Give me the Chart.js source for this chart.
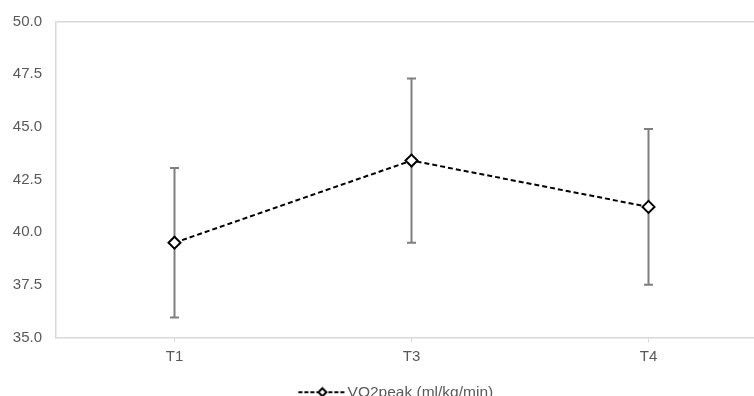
<!DOCTYPE html>
<html>
<head>
<meta charset="utf-8">
<script src="https://cdn.jsdelivr.net/npm/chart.js@4.4.1/dist/chart.umd.min.js"></script>
<style>
    html, body { margin: 0; padding: 0; background: #fff; overflow: hidden; }
    #wrap { position: relative; width: 775px; height: 410px; }
</style>
</head>
<body>
<div id="wrap"><canvas id="vo2Chart"></canvas></div>
<script>
const timepoints = ['T1', 'T3', 'T4'];
const vo2Means = [39.5, 43.4, 41.2];
const vo2Errors = [3.55, 3.9, 3.7];
const yTicks = [35, 37.5, 40, 42.5, 45, 47.5, 50];

// legend symbol: dashed line with diamond marker (drawn left of the image centre)
function makeLegendSymbol() {
    const c = document.createElement('canvas');
    c.width = 80;
    c.height = 14;
    const g = c.getContext('2d');
    g.strokeStyle = '#000';
    g.lineWidth = 2;
    g.setLineDash([4, 2]);
    g.beginPath();
    g.moveTo(3.5, 7);
    g.lineTo(51.5, 7);
    g.stroke();
    g.setLineDash([]);
    g.fillStyle = '#fff';
    g.beginPath();
    g.moveTo(27.5, 3);
    g.lineTo(31.5, 7);
    g.lineTo(27.5, 11);
    g.lineTo(23.5, 7);
    g.closePath();
    g.fill();
    g.stroke();
    return c;
}

const errorBars = {
    id: 'errorBars',
    beforeDatasetsDraw(chart) {
        const ctx = chart.ctx;
        const xs = chart.scales.x;
        const ys = chart.scales.y;
        ctx.save();
        ctx.strokeStyle = '#7f7f7f';
        ctx.lineWidth = 2;
        vo2Means.forEach((m, i) => {
            const x = xs.getPixelForValue(i);
            const top = ys.getPixelForValue(m + vo2Errors[i]);
            const bot = ys.getPixelForValue(m - vo2Errors[i]);
            ctx.beginPath();
            ctx.moveTo(x, top);
            ctx.lineTo(x, bot);
            ctx.moveTo(x - 4.5, top);
            ctx.lineTo(x + 4.5, top);
            ctx.moveTo(x - 4.5, bot);
            ctx.lineTo(x + 4.5, bot);
            ctx.stroke();
        });
        ctx.restore();
    }
};

Chart.defaults.font.family = '"Liberation Sans", Arial, sans-serif';
Chart.defaults.font.size = 15;
Chart.defaults.color = '#595959';

const ctx = document.getElementById('vo2Chart').getContext('2d');
new Chart(ctx, {
    type: 'line',
    data: {
        labels: timepoints,
        datasets: [{
            label: 'VO2peak (ml/kg/min)',
            data: vo2Means,
            borderColor: '#000',
            borderWidth: 2,
            borderDash: [5, 3],
            pointStyle: 'rectRot',
            pointRadius: 6,
            pointBorderWidth: 2,
            pointBackgroundColor: '#fff',
            pointBorderColor: '#000',
            fill: false,
            tension: 0
        }]
    },
    options: {
        responsive: true,
        maintainAspectRatio: false,
        animation: false,
        layout: { padding: { top: 8, left: 0, right: 2, bottom: 0 } },
        plugins: {
            legend: {
                position: 'bottom',
                fullSize: false,
                labels: {
                    usePointStyle: true,
                    pointStyle: makeLegendSymbol(),
                    pointStyleWidth: 10,
                    padding: 10,
                    color: '#595959',
                    font: { size: 15.5 }
                }
            },
            tooltip: { enabled: false }
        },
        scales: {
            x: {
                offset: true,
                afterFit: (scale) => { scale.height += 4; },
                grid: {
                    offset: false,
                    drawOnChartArea: false,
                    color: '#d9d9d9',
                    tickLength: 5
                },
                border: { color: '#d9d9d9', width: 1.5 },
                ticks: { padding: 5 }
            },
            y: {
                min: 35,
                max: 50,
                afterBuildTicks: (scale) => {
                    scale.ticks = yTicks.map(v => ({ value: v }));
                },
                afterFit: (scale) => { scale.width = 56; },
                grid: {
                    drawTicks: false,
                    color: (c) => c.tick && c.tick.value === 50 ? '#d9d9d9' : 'rgba(0,0,0,0)',
                    lineWidth: 1.5
                },
                border: { color: '#d9d9d9', width: 1.5 },
                ticks: {
                    padding: 14,
                    font: { lineHeight: 1 },
                    callback: (v) => Number(v).toFixed(1)
                }
            }
        }
    },
    plugins: [errorBars]
});
</script>
</body>
</html>
